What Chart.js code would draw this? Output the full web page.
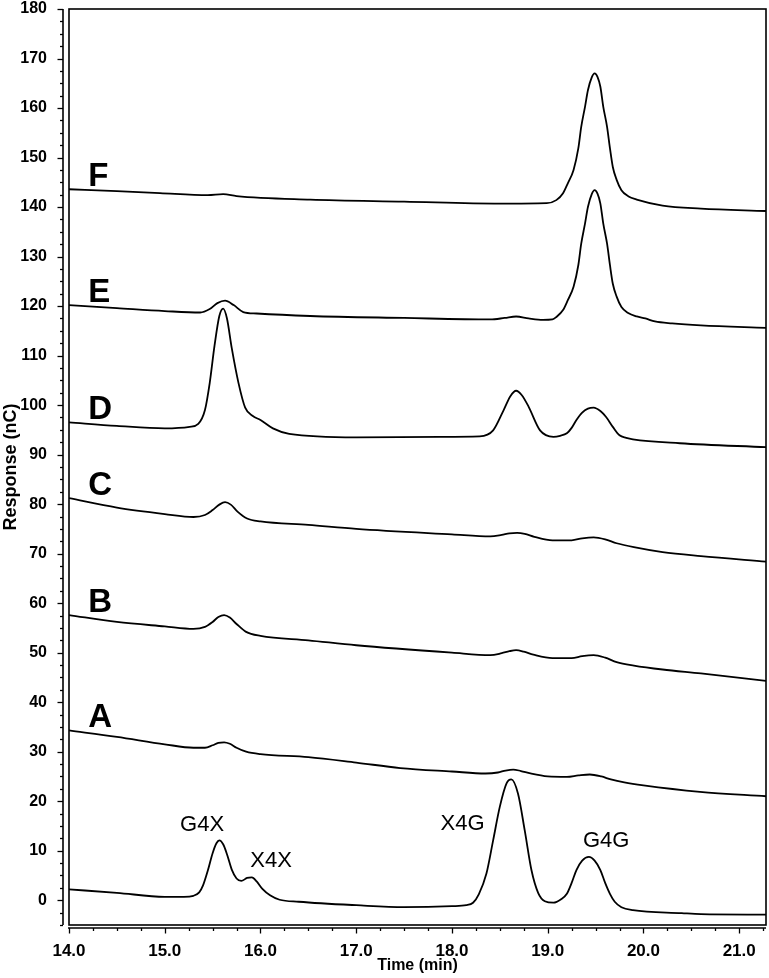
<!DOCTYPE html>
<html><head><meta charset="utf-8">
<script src="https://cdn.jsdelivr.net/npm/chart.js@4/dist/chart.umd.min.js"></script>
<style>html,body{margin:0;padding:0;background:#fff}</style>
</head><body>
<canvas id="c" width="769" height="978" style="display:block;width:769px;height:978px"></canvas>
<script>
// ---- data (time in min, response in nC) ----
const stdTime = [14.0,14.5,15.0,15.2,15.3,15.36,15.40,15.45,15.50,15.54,15.57,15.61,15.65,15.70,15.75,15.80,15.86,15.91,15.96,16.02,16.10,16.20,16.40,17.0,17.5,18.0,18.15,18.22,18.28,18.36,18.43,18.50,18.57,18.62,18.69,18.76,18.83,18.90,18.97,19.06,19.14,19.20,19.25,19.30,19.36,19.43,19.49,19.55,19.60,19.65,19.70,19.77,19.89,20.4,20.6,21.28];
const stdResp = [2.2,1.5,0.7,0.7,0.9,1.6,3.0,6.0,9.5,11.5,12.1,11.3,9.3,6.2,4.4,3.9,4.5,4.6,3.8,2.3,1.0,0.1,-0.3,-1.0,-1.4,-1.2,-1.0,-0.5,1.2,5.4,12.1,18.9,23.6,24.4,21.5,14.1,6.1,1.5,-0.2,-0.5,0.2,1.3,3.5,6.1,8.0,8.75,8.0,6.1,3.5,1.3,-0.3,-1.4,-2.0,-2.6,-2.8,-2.9];

const aTime = [14.0,14.5,15.0,15.3,15.42,15.5,15.56,15.62,15.68,15.75,15.85,16.0,16.5,17.0,17.46,18.0,18.35,18.48,18.56,18.64,18.72,18.82,19.0,19.2,19.32,19.44,19.56,19.66,19.8,20.0,20.59,21.28];
const aResp = [34.3,33.0,31.5,30.8,30.8,31.3,31.8,31.9,31.6,30.8,30.0,29.5,28.9,27.8,26.7,26.0,25.6,25.8,26.2,26.4,26.1,25.6,25.0,24.9,25.2,25.4,25.0,24.4,23.8,23.2,21.9,21.0];

const bTime = [14.0,14.5,15.0,15.3,15.42,15.5,15.56,15.62,15.68,15.75,15.85,16.0,16.5,17.0,18.0,18.4,18.52,18.6,18.67,18.75,18.85,19.05,19.25,19.36,19.48,19.6,19.72,19.9,20.2,20.6,21.28];
const bResp = [57.6,56.2,55.3,54.8,55.2,56.2,57.2,57.6,57.1,55.8,54.2,53.4,52.5,51.5,50.0,49.5,49.9,50.3,50.5,50.2,49.6,48.9,48.9,49.3,49.5,49.0,48.1,47.4,46.6,45.8,44.3];

const cTime = [14.0,14.5,15.0,15.3,15.42,15.5,15.57,15.63,15.69,15.76,15.86,16.0,16.5,17.0,18.0,18.4,18.52,18.6,18.68,18.76,18.86,19.05,19.25,19.36,19.48,19.6,19.72,19.9,20.2,20.6,21.28];
const cResp = [81.2,79.3,78.0,77.4,77.8,78.8,79.9,80.4,79.9,78.5,77.1,76.5,75.8,75.0,73.9,73.5,73.8,74.1,74.2,74.0,73.4,72.7,72.7,73.1,73.3,72.9,72.1,71.3,70.3,69.5,68.4];

const dTime = [14.0,14.5,15.0,15.26,15.35,15.42,15.47,15.52,15.57,15.61,15.65,15.70,15.77,15.84,15.92,16.0,16.13,16.3,17.0,17.87,18.29,18.43,18.54,18.61,18.67,18.73,18.80,18.92,19.06,19.13,19.20,19.25,19.30,19.36,19.42,19.48,19.55,19.61,19.68,19.75,19.82,19.89,20.38,21.28];
const dResp = [96.5,95.8,95.3,95.6,96.2,99.0,104.5,112.0,118.0,119.5,117.5,111.5,104.5,99.5,97.8,97.0,95.3,94.2,93.5,93.6,93.7,94.9,99.0,101.8,102.9,102.0,99.7,94.9,93.6,93.8,94.3,95.4,97.0,98.5,99.3,99.5,98.8,97.6,95.6,93.9,93.4,93.1,92.3,91.5];

const eTime = [14.0,14.5,15.0,15.37,15.47,15.55,15.63,15.72,15.82,15.96,16.52,17.5,18.4,18.55,18.67,18.8,18.95,19.05,19.09,19.16,19.21,19.27,19.32,19.35,19.39,19.42,19.46,19.49,19.52,19.55,19.58,19.62,19.65,19.68,19.72,19.77,19.84,19.93,20.02,20.12,20.3,20.6,21.28];
const eResp = [120.2,119.6,119.0,118.7,119.4,120.6,121.1,120.2,118.8,118.5,118.0,117.6,117.3,117.6,117.9,117.5,117.2,117.3,117.8,119.2,121.2,123.9,128.3,132.6,136.7,140.0,142.6,143.4,142.7,140.7,136.7,132.6,128.3,124.5,121.9,119.8,118.6,117.9,117.5,116.9,116.5,116.1,115.6];

const fTime = [14.0,14.5,14.95,15.45,15.61,15.75,16.52,17.5,18.5,18.99,19.09,19.16,19.21,19.27,19.32,19.35,19.39,19.42,19.46,19.49,19.52,19.55,19.58,19.62,19.65,19.68,19.72,19.77,19.84,19.93,20.2,20.6,21.28];
const fResp = [143.6,143.2,142.8,142.4,142.6,142.2,141.5,141.1,140.7,140.8,141.4,142.8,144.8,147.5,151.9,156.2,160.3,163.6,166.2,167.0,166.3,164.3,160.3,156.2,151.9,148.1,145.5,143.4,142.2,141.5,140.3,139.7,139.2];

const traceNames = ['', 'A', 'B', 'C', 'D', 'E', 'F'];
const peakNames = ['G4X', 'X4X', 'X4G', 'G4G'];
const peakLabelTime = [15.39, 16.11, 18.11, 19.61];
const peakLabelResp = [13.9, 6.7, 14.1, 10.8];

const xTitle = 'Time (min)';
const yTitle = 'Response (nC)';

// ---- build datasets ----
const times = [stdTime, aTime, bTime, cTime, dTime, eTime, fTime];
const resps = [stdResp, aResp, bResp, cResp, dResp, eResp, fResp];
const datasets = times.map((t, k) => ({
  label: traceNames[k] || 'Standard',
  data: t.map((x, i) => ({x: x, y: resps[k][i]})),
  borderColor: '#000',
  borderWidth: 1.8,
  pointRadius: 0,
  fill: false,
  cubicInterpolationMode: 'monotone'
}));

const decor = {
  id: 'decor',
  afterDraw(chart) {
    const ctx = chart.ctx, a = chart.chartArea;
    const xs = chart.scales.x, ys = chart.scales.y;
    ctx.save();
    ctx.strokeStyle = '#000';
    ctx.lineWidth = 1.6;
    ctx.strokeRect(a.left, a.top, a.right - a.left, a.bottom - a.top);
    const axX = a.left - 6;
    ctx.beginPath();
    ctx.moveTo(axX, ys.getPixelForValue(ys.min));
    ctx.lineTo(axX, ys.getPixelForValue(ys.max));
    ctx.stroke();
    ctx.lineWidth = 1.3;
    for (let v = ys.min; v <= ys.max + 1e-6; v += 2.5) {
      const y = Math.round(ys.getPixelForValue(v)) + 0.5;
      const len = (Math.abs(v % 10) < 1e-6) ? 5.5 : 3;
      ctx.beginPath(); ctx.moveTo(axX, y); ctx.lineTo(axX - len, y); ctx.stroke();
    }
    const axY = a.bottom + 3;
    ctx.lineWidth = 1.6;
    ctx.beginPath();
    ctx.moveTo(xs.getPixelForValue(xs.min) - 1, axY);
    ctx.lineTo(a.right, axY);
    ctx.stroke();
    ctx.lineWidth = 1.3;
    for (let v = xs.min; v <= xs.max + 1e-6; v += 0.25) {
      const x = Math.round(xs.getPixelForValue(v)) + 0.5;
      const len = (Math.abs(v - Math.round(v)) < 1e-6) ? 5.5 : 3;
      ctx.beginPath(); ctx.moveTo(x, axY); ctx.lineTo(x, axY + len); ctx.stroke();
    }
    ctx.fillStyle = '#000';
    ctx.textAlign = 'left';
    ctx.textBaseline = 'alphabetic';
    ctx.font = 'bold 33px "Liberation Sans", Arial, sans-serif';
    for (let k = 1; k < traceNames.length; k++) {
      const x = xs.getPixelForValue(14.2);
      const y = ys.getPixelForValue(resps[k][0]) - 3;
      ctx.fillText(traceNames[k], x, y);
    }
    ctx.font = '22px "Liberation Sans", Arial, sans-serif';
    ctx.textAlign = 'center';
    peakNames.forEach((n, i) => {
      ctx.fillText(n, xs.getPixelForValue(peakLabelTime[i]), ys.getPixelForValue(peakLabelResp[i]));
    });
    ctx.restore();
  }
};

new Chart(document.getElementById('c'), {
  type: 'line',
  data: {datasets},
  options: {
    responsive: false,
    animation: false,
    devicePixelRatio: 1,
    layout: {padding: {top: 9, right: 3, left: 0, bottom: 0}},
    plugins: {legend: {display: false}, tooltip: {enabled: false}},
    scales: {
      x: {
        type: 'linear', min: 14, max: 21.28,
        grid: {display: false}, border: {display: false},
        ticks: {stepSize: 1, includeBounds: false, autoSkip: false, maxRotation: 0,
          callback: v => Number(v).toFixed(1), color: '#000', padding: 8,
          font: {family: '"Liberation Sans", Arial, sans-serif', weight: 'bold', size: 17}},
        title: {display: true, text: xTitle, color: '#000', padding: {top: 0, bottom: 3},
          font: {family: '"Liberation Sans", Arial, sans-serif', weight: 'bold', size: 16}},
        afterFit(s) { s.height = 53; s.paddingLeft = 0; s.paddingRight = 0; }
      },
      y: {
        type: 'linear', min: -5, max: 180,
        grid: {display: false}, border: {display: false},
        ticks: {stepSize: 10, includeBounds: false, autoSkip: false, color: '#000', padding: 14,
          font: {family: '"Liberation Sans", Arial, sans-serif', weight: 'bold', size: 16}},
        title: {display: true, text: yTitle, color: '#000', padding: {top: 0, bottom: 0},
          font: {family: '"Liberation Sans", Arial, sans-serif', weight: 'bold', size: 18}},
        afterFit(s) { s.width = 69; s.paddingTop = 0; s.paddingBottom = 0; }
      }
    }
  },
  plugins: [decor]
});
</script>
</body></html>
